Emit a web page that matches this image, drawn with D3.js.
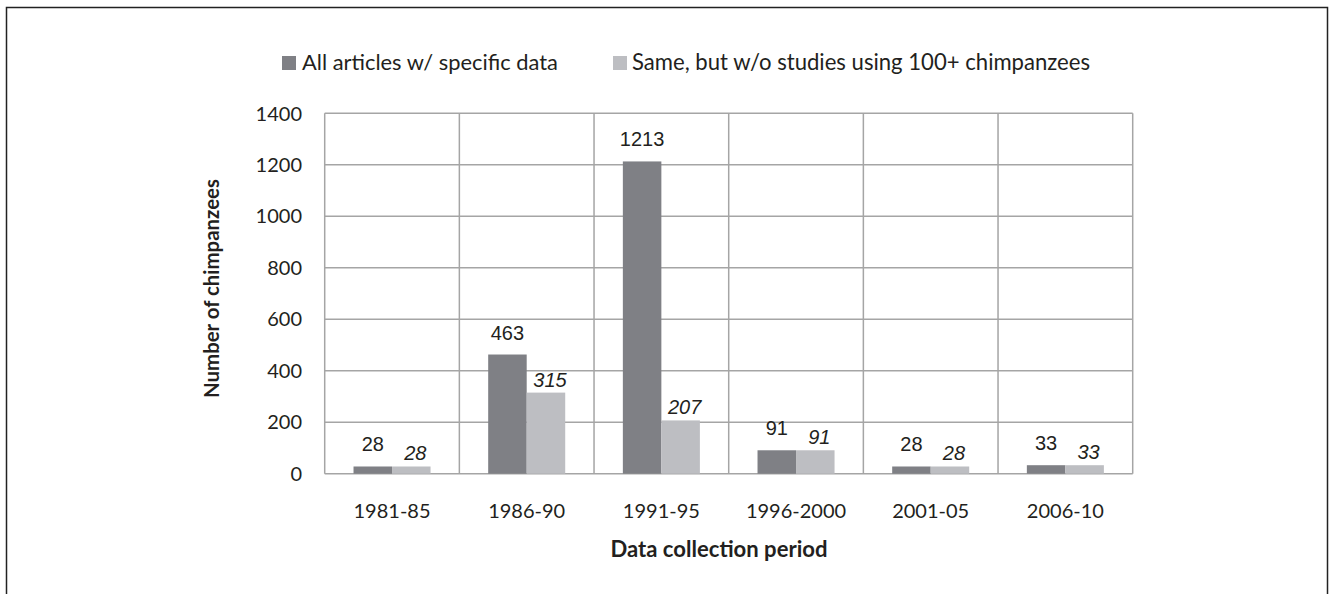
<!DOCTYPE html>
<html>
<head>
  <meta charset="utf-8">
  <title>Chimpanzees per data collection period</title>
  <script src="https://d3js.org/d3.v7.min.js"></script>
  <style>
    body { margin: 0; background: #fff; }
    text { fill: #231f20; }
  </style>
</head>
<body>
  <script>
    // data
    var periods = ['1981-85', '1986-90', '1991-95', '1996-2000', '2001-05', '2006-10'];
    var seriesNames = ['All articles w/ specific data', 'Same, but w/o studies using 100+ chimpanzees'];
    var allArticles = [28, 463, 1213, 91, 28, 33];
    var withoutLarge = [28, 315, 207, 91, 28, 33];
    var yTicks = [0, 200, 400, 600, 800, 1000, 1200, 1400];

    var colors = ['#7f8085', '#bdbec2'];
    var width = 1331, height = 594;

    var svg = d3.select('body')
      .append('svg')
      .attr('width', width)
      .attr('height', height);

    // Lato is wider than the original's Calibri, so size some texts to a width
    function fitWidth(sel, target) {
      var w = sel.node().getComputedTextLength();
      var size = parseFloat(sel.style('font-size'));
      sel.style('font-size', (size * target / w).toFixed(2) + 'px');
    }

    // outer frame (bottom edge runs off the picture)
    svg.append('rect')
      .attr('x', 6.5).attr('y', 7.5)
      .attr('width', 1321).attr('height', 620)
      .attr('fill', 'none')
      .attr('stroke', '#222')
      .attr('stroke-width', 1.5);

    var plot = { left: 324.7, right: 1132.7, top: 113.3, bottom: 473.7 };

    var x = d3.scaleBand()
      .domain(periods)
      .range([plot.left, plot.right]);

    var inner = d3.scaleBand()
      .domain([0, 1])
      .range([x.bandwidth() * 0.214, x.bandwidth() * 0.786]);

    var y = d3.scaleLinear()
      .domain([0, 1400])
      .range([plot.bottom, plot.top]);

    // gridlines
    var grid = svg.append('g')
      .attr('stroke', '#a5a5a5')
      .attr('stroke-width', 1.5);

    grid.selectAll('line.h')
      .data(yTicks)
      .enter().append('line')
      .attr('class', 'h')
      .attr('x1', plot.left).attr('x2', plot.right)
      .attr('y1', function(d) { return y(d); })
      .attr('y2', function(d) { return y(d); });

    var edges = periods.map(function(p) { return x(p); }).concat([plot.right]);
    grid.selectAll('line.v')
      .data(edges)
      .enter().append('line')
      .attr('class', 'v')
      .attr('y1', plot.top).attr('y2', plot.bottom)
      .attr('x1', function(d) { return d; })
      .attr('x2', function(d) { return d; });

    // y tick labels
    svg.append('g')
      .selectAll('text')
      .data(yTicks)
      .enter().append('text')
      .attr('x', 302)
      .attr('y', function(d) { return y(d); })
      .attr('dy', '0.36em')
      .attr('text-anchor', 'end')
      .style('font', '20px Lato')
      .text(function(d) { return d; });

    // x tick labels
    svg.append('g')
      .selectAll('text')
      .data(periods)
      .enter().append('text')
      .attr('x', function(d) { return x(d) + x.bandwidth() / 2; })
      .attr('y', 518)
      .attr('text-anchor', 'middle')
      .style('font', '20px Lato')
      .text(function(d) { return d; });

    // bars
    var series = [allArticles, withoutLarge];
    series.forEach(function(vals, s) {
      var g = svg.append('g');
      g.selectAll('rect')
        .data(vals)
        .enter().append('rect')
        .attr('x', function(d, i) { return x(periods[i]) + inner(s); })
        .attr('width', inner.bandwidth())
        .attr('y', function(d) { return y(d); })
        .attr('height', function(d) { return y(0) - y(d); })
        .attr('fill', colors[s]);

      g.selectAll('text')
        .data(vals)
        .enter().append('text')
        .attr('x', function(d, i) {
          return x(periods[i]) + inner(s) + inner.bandwidth() / 2 + (s ? 4 : 0);
        })
        .attr('y', function(d) { return y(d) - (s ? 6 : 15); })
        .attr('text-anchor', 'middle')
        .style('font-family', '"Liberation Sans", Arial, sans-serif')
        .style('font-size', '20px')
        .style('font-style', s ? 'italic' : 'normal')
        .text(function(d) { return d; });
    });

    // legend
    var legendSwatchX = [282, 613];
    var legendTextX = [302, 632];
    var legendTextW = [256, 458];
    var legend = svg.append('g');
    seriesNames.forEach(function(name, s) {
      legend.append('rect')
        .attr('x', legendSwatchX[s]).attr('y', 56)
        .attr('width', 14).attr('height', 14)
        .attr('fill', colors[s]);
      var t = legend.append('text')
        .attr('x', legendTextX[s])
        .attr('y', 70)
        .style('font-family', 'Lato')
        .style('font-size', '20px')
        .text(name);
      fitWidth(t, legendTextW[s]);
    });

    // axis titles
    var xTitle = svg.append('text')
      .attr('x', 719)
      .attr('y', 557)
      .attr('text-anchor', 'middle')
      .style('font-family', 'Lato')
      .style('font-weight', 'bold')
      .style('font-size', '20px')
      .text('Data collection period');
    fitWidth(xTitle, 217);

    var yTitle = svg.append('text')
      .attr('transform', 'translate(219,288.5) rotate(-90)')
      .attr('text-anchor', 'middle')
      .style('font-family', 'Lato')
      .style('font-weight', 'bold')
      .style('font-size', '20px')
      .text('Number of chimpanzees');
    fitWidth(yTitle, 219);
  </script>
</body>
</html>
